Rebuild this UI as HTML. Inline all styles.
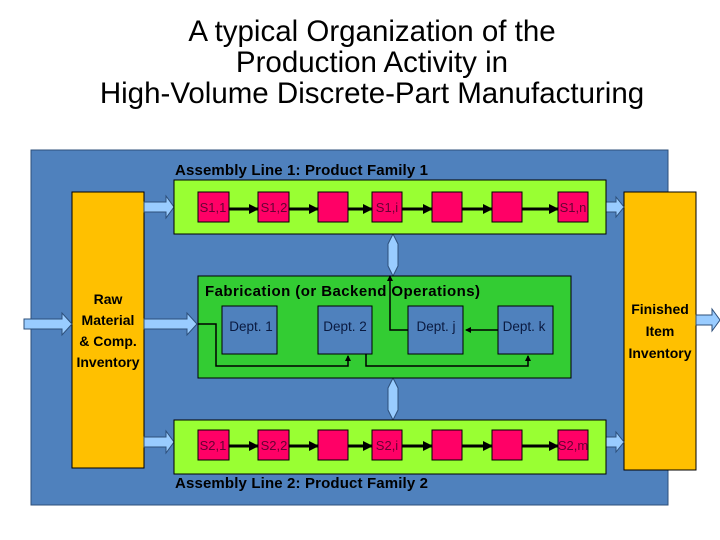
<!DOCTYPE html>
<html><head><meta charset="utf-8"><style>body{margin:0;background:#fff}svg{display:block}</style></head><body>
<svg width="720" height="540" xmlns="http://www.w3.org/2000/svg" font-family="Liberation Sans, sans-serif">
<defs>
<marker id="ah" markerWidth="10" markerHeight="10" refX="9" refY="5" orient="auto" markerUnits="userSpaceOnUse"><path d="M0,0 L10,5 L0,10 z" fill="#000"/></marker>
<marker id="as" markerWidth="6" markerHeight="6" refX="5" refY="3" orient="auto" markerUnits="userSpaceOnUse"><path d="M0,0 L6,3 L0,6 z" fill="#000"/></marker>
</defs>
<g font-size="29.5" text-anchor="middle" fill="#000">
<text x="372" y="41">A typical Organization of the</text>
<text x="372" y="72">Production Activity in</text>
<text x="372" y="103">High-Volume Discrete-Part Manufacturing</text>
</g>
<rect x="31" y="150" width="637" height="355" fill="#4f81bd" stroke="#2d4f7a"/>
<rect x="72" y="192" width="72" height="276" fill="#ffc000" stroke="#000"/>
<rect x="624" y="192" width="72" height="278" fill="#ffc000" stroke="#000"/>
<g font-size="14" font-weight="bold" text-anchor="middle">
<text x="108" y="304">Raw</text><text x="108" y="325">Material</text><text x="108" y="346">&amp; Comp.</text><text x="108" y="367">Inventory</text>
<text x="660" y="314">Finished</text><text x="660" y="336">Item</text><text x="660" y="358">Inventory</text>
</g>
<g fill="#99ccff" stroke="#2d4f7a" stroke-width="1">
<path d="M24,319 H62 V313 L72,324 L62,335 V329 H24 z"/>
<path d="M144,202 H166 V196 L174,207 L166,218 V212 H144 z"/>
<path d="M144,319 H187 V313 L197,324 L187,335 V329 H144 z"/>
<path d="M144,437 H166 V431 L174,442 L166,453 V447 H144 z"/>
<path d="M606,202 H616 V197 L624,207 L616,217 V212 H606 z"/>
<path d="M606,437 H616 V432 L624,442 L616,452 V447 H606 z"/>
<path d="M696,315 H712 V309 L720,320 L712,331 V325 H696 z"/>
<path d="M388,244 L393,234 L398,244 V266 L393,276 L388,266 z" />
<path d="M388,388 L393,378 L398,388 V410 L393,420 L388,410 z"/>
</g>
<rect x="174" y="180" width="432" height="54" fill="#99ff33" stroke="#000"/>
<rect x="174" y="420" width="432" height="54" fill="#99ff33" stroke="#000"/>
<g stroke="#000" stroke-width="3">
<line x1="229" y1="209" x2="258" y2="209" marker-end="url(#ah)"/>
<line x1="289" y1="209" x2="318" y2="209" marker-end="url(#ah)"/>
<line x1="348" y1="209" x2="372" y2="209" marker-end="url(#ah)"/>
<line x1="402" y1="209" x2="432" y2="209" marker-end="url(#ah)"/>
<line x1="462" y1="209" x2="492" y2="209" marker-end="url(#ah)"/>
<line x1="522" y1="209" x2="558" y2="209" marker-end="url(#ah)"/>
<line x1="229" y1="446" x2="258" y2="446" marker-end="url(#ah)"/>
<line x1="289" y1="446" x2="318" y2="446" marker-end="url(#ah)"/>
<line x1="348" y1="446" x2="372" y2="446" marker-end="url(#ah)"/>
<line x1="402" y1="446" x2="432" y2="446" marker-end="url(#ah)"/>
<line x1="462" y1="446" x2="492" y2="446" marker-end="url(#ah)"/>
<line x1="522" y1="446" x2="558" y2="446" marker-end="url(#ah)"/>
</g>
<g fill="#ff0066" stroke="#000">
<rect x="198" y="192" width="31" height="30"/><rect x="258" y="192" width="31" height="30"/><rect x="318" y="192" width="30" height="30"/><rect x="372" y="192" width="30" height="30"/><rect x="432" y="192" width="30" height="30"/><rect x="492" y="192" width="30" height="30"/><rect x="558" y="192" width="30" height="30"/>
<rect x="198" y="430" width="31" height="30"/><rect x="258" y="430" width="31" height="30"/><rect x="318" y="430" width="30" height="30"/><rect x="372" y="430" width="30" height="30"/><rect x="432" y="430" width="30" height="30"/><rect x="492" y="430" width="30" height="30"/><rect x="558" y="430" width="30" height="30"/>
</g>
<g font-size="13" fill="#660033" text-anchor="middle">
<text x="213" y="212">S1,1</text><text x="274" y="212">S1,2</text><text x="387" y="212">S1,i</text><text x="573" y="212">S1,n</text>
<text x="213" y="450">S2,1</text><text x="274" y="450">S2,2</text><text x="387" y="450">S2,i</text><text x="573" y="450">S2,m</text>
</g>
<g font-size="15" font-weight="bold">
<text x="175" y="175" textLength="253">Assembly Line 1: Product Family 1</text>
<text x="175" y="488" textLength="253">Assembly Line 2: Product Family 2</text>
</g>
<rect x="198" y="276" width="373" height="102" fill="#33cc33" stroke="#000"/>
<g fill="#4f81bd" stroke="#000">
<rect x="222" y="306" width="55" height="48"/><rect x="318" y="306" width="54" height="48"/><rect x="408" y="306" width="55" height="48"/><rect x="498" y="306" width="55" height="48"/>
</g>
<g font-size="13.5" fill="#0a1a40" text-anchor="middle">
<text x="251" y="331">Dept. 1</text><text x="345" y="331">Dept. 2</text><text x="436" y="331">Dept. j</text><text x="524" y="331">Dept. k</text>
</g>
<text x="205" y="296" font-size="15" font-weight="bold" textLength="275">Fabrication (or  Backend Operations)</text>
<g stroke="#000" stroke-width="1.5" fill="none">
<polyline points="198,324 216,324 216,366 348,366 348,356" marker-end="url(#as)"/>
<polyline points="366,354 366,366 528,366 528,356" marker-end="url(#as)"/>
<line x1="498" y1="330" x2="466" y2="330" marker-end="url(#as)"/>
<polyline points="408,330 390,330 390,276" marker-end="url(#as)"/>
</g>
</svg>
</body></html>
